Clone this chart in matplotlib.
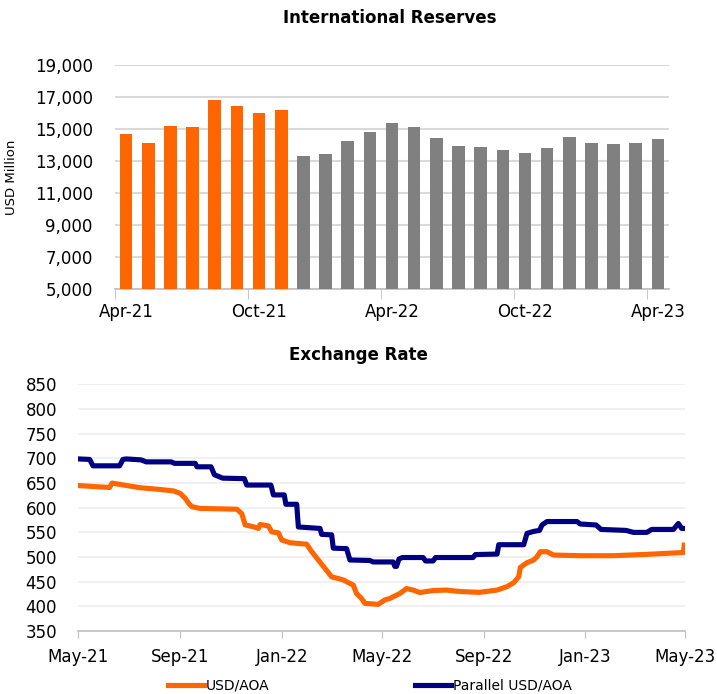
import matplotlib
matplotlib.use('Agg')
import matplotlib.pyplot as plt
import matplotlib.dates as mdates
import pandas as pd

# International reserves, USD million, Apr-21 .. Apr-23
res_months = pd.date_range('2021-04-01', '2023-04-01', freq='MS')
res_values = [14670, 14150, 15190, 15150, 16790, 16460, 16020, 16170,
              13290, 13440, 14250, 14830, 15400, 15125, 14420, 13960,
              13900, 13710, 13520, 13810, 14500, 14150, 14040, 14150, 14400]
n_orange = 8
res_tick_labels = ['Apr-21', 'Oct-21', 'Apr-22', 'Oct-22', 'Apr-23']

# Exchange rates
official_dates = ['2021-05-01', '2021-06-08', '2021-06-11', '2021-06-25', '2021-07-15',
                  '2021-08-08', '2021-08-24', '2021-09-01', '2021-09-07', '2021-09-11',
                  '2021-09-15', '2021-09-25', '2021-11-08', '2021-11-14', '2021-11-18',
                  '2021-11-28', '2021-12-04', '2021-12-06', '2021-12-16', '2021-12-20',
                  '2021-12-28', '2022-01-01', '2022-01-11', '2022-01-31', '2022-02-06',
                  '2022-02-14', '2022-02-22', '2022-03-02', '2022-03-16', '2022-03-28',
                  '2022-04-01', '2022-04-07', '2022-04-11', '2022-04-27', '2022-05-05',
                  '2022-05-11', '2022-05-23', '2022-05-31', '2022-06-08', '2022-06-16',
                  '2022-07-02', '2022-07-18', '2022-08-03', '2022-08-27', '2022-09-17',
                  '2022-09-29', '2022-10-07', '2022-10-13', '2022-10-15', '2022-10-23',
                  '2022-10-31', '2022-11-04', '2022-11-08', '2022-11-16', '2022-11-24',
                  '2022-12-26', '2023-02-04', '2023-03-16', '2023-04-25', '2023-04-29',
                  '2023-04-30']
official_rate = [645, 641, 650, 646, 640.5, 637, 634, 629, 619, 609,
                 602, 598.6, 597, 588, 565, 561.5, 558, 566, 563, 551,
                 549, 534.5, 529, 526, 511, 494, 477, 460, 453.5, 443,
                 426, 416, 406, 404, 413, 416, 426, 436, 433, 428,
                 432, 433, 430, 428.4, 433, 440, 448, 460, 479, 488.5,
                 494, 500.6, 510.8, 510.8, 504, 502.7, 502.7, 505.4, 508.8, 509,
                 524]

parallel_dates = ['2021-05-01', '2021-05-15', '2021-05-19', '2021-06-20', '2021-06-24',
                  '2021-06-28', '2021-07-16', '2021-07-22', '2021-08-21', '2021-08-25',
                  '2021-09-19', '2021-09-21', '2021-10-08', '2021-10-12', '2021-10-22',
                  '2021-11-17', '2021-11-20', '2021-12-19', '2021-12-22', '2022-01-04',
                  '2022-01-06', '2022-01-19', '2022-01-21', '2022-02-16', '2022-02-18',
                  '2022-03-02', '2022-03-04', '2022-03-20', '2022-03-24', '2022-04-17',
                  '2022-04-21', '2022-05-15', '2022-05-17', '2022-05-19', '2022-05-22',
                  '2022-05-26', '2022-06-20', '2022-06-23', '2022-07-02', '2022-07-05',
                  '2022-08-19', '2022-08-22', '2022-09-17', '2022-09-19', '2022-10-19',
                  '2022-10-23', '2022-10-31', '2022-11-07', '2022-11-10', '2022-11-16',
                  '2022-12-22', '2022-12-26', '2023-01-14', '2023-01-20', '2023-02-19',
                  '2023-02-28', '2023-03-16', '2023-03-22', '2023-04-17', '2023-04-23',
                  '2023-04-27', '2023-05-01']
parallel_rate = [699, 698, 685, 685, 698, 699, 697, 693, 693, 690,
                 690, 683, 683, 667, 660, 659, 646, 646, 626, 626,
                 607, 607, 561, 558, 546, 545, 518, 517, 494, 493,
                 490, 490, 481, 481, 496, 499, 499, 492, 492, 499,
                 499, 505, 506, 525, 525, 548, 552, 554, 565, 572,
                 572, 567, 565, 556, 554, 550, 550, 556, 556, 568,
                 558, 558]

fer_ticks = ['2021-05-01', '2021-09-01', '2022-01-01', '2022-05-01',
             '2022-09-01', '2023-01-01', '2023-05-01']

ORANGE = '#FF6600'
GREY = '#808080'
NAVY = '#000080'

plt.rcParams['font.family'] = ['DejaVu Sans']

fig = plt.figure(figsize=(7.17, 6.94), dpi=100)

# ---- top: international reserves ----
ax1 = fig.add_axes([0.1604, 0.5836, 0.7727, 0.3228])
x = list(range(len(res_values)))
colors = [ORANGE] * n_orange + [GREY] * (len(res_values) - n_orange)
ax1.bar(x, res_values, width=0.57, color=colors, zorder=3)
ax1.set_ylim(5000, 19000)
ax1.set_xlim(-0.5, len(res_values) - 0.5)
ax1.set_yticks(range(5000, 19001, 2000))
ax1.set_yticklabels([f'{v:,}' for v in range(5000, 19001, 2000)], fontsize=12)
ax1.set_xticks([0, 6, 12, 18, 24])
ax1.set_xticklabels(res_tick_labels, fontsize=12)
ax1.set_xticks([-0.5, 5.5, 11.5, 17.5, 23.5], minor=True)
ax1.tick_params(axis='x', which='major', length=0, pad=10)
ax1.tick_params(axis='x', which='minor', length=7, color='#bfbfbf', direction='out')
ax1.tick_params(axis='y', length=0, pad=16)
ax1.grid(axis='y', color='#d9d9d9', linewidth=1.5, zorder=0)
for s in ['top', 'right', 'left']:
    ax1.spines[s].set_visible(False)
ax1.spines['bottom'].set_color('#bfbfbf')
ax1.spines['bottom'].set_linewidth(1.2)
ax1.set_ylabel('USD Million', fontsize=9.5, labelpad=12)
fig.text(0.544, 0.974, 'International Reserves', ha='center', va='center',
         fontsize=12, fontweight='bold')

# ---- bottom: exchange rate ----
ax2 = fig.add_axes([0.1088, 0.0908, 0.8466, 0.3552])
ax2.plot(pd.to_datetime(official_dates), official_rate, color=ORANGE,
         linewidth=3.7, label='USD/AOA', zorder=3, solid_joinstyle='round')
ax2.plot(pd.to_datetime(parallel_dates), parallel_rate, color=NAVY,
         linewidth=3.7, label='Parallel USD/AOA', zorder=3, solid_joinstyle='round')
ax2.set_ylim(350, 850)
ax2.set_xlim(pd.Timestamp('2021-05-01'), pd.Timestamp('2023-05-01'))
ax2.set_yticks(range(350, 851, 50))
ax2.tick_params(axis='y', length=0, labelsize=12, pad=15)
ax2.set_xticks(pd.to_datetime(fer_ticks))
ax2.xaxis.set_major_formatter(mdates.DateFormatter('%b-%y'))
ax2.tick_params(axis='x', length=5, color='#bfbfbf', labelsize=12, pad=7)
ax2.grid(axis='y', color='#eeeeee', linewidth=1.2, zorder=0)
for s in ['top', 'right', 'left']:
    ax2.spines[s].set_visible(False)
ax2.spines['bottom'].set_color('#bfbfbf')
ax2.spines['bottom'].set_linewidth(1.2)
fig.text(0.5, 0.488, 'Exchange Rate', ha='center', va='center',
         fontsize=12, fontweight='bold')

fig.legend(loc='center', bbox_to_anchor=(0.516, 0.012), ncol=2, frameon=False,
           fontsize=10, handlelength=2.6, handletextpad=0.15, columnspacing=10.5)

fig.savefig('out.png', dpi=100)
